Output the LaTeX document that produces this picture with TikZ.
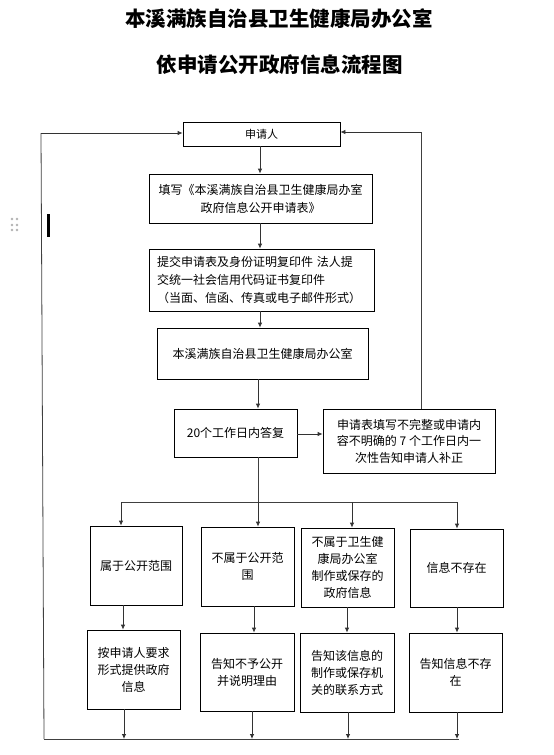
\documentclass[tikz,border=0pt]{standalone}
\usepackage{fontspec}
\setmainfont{Noto Sans CJK SC}
\newfontfamily\cjk{Noto Sans CJK SC}
\usetikzlibrary{arrows.meta,calc}
\begin{document}
\begin{tikzpicture}[x=1pt,y=-1pt,
  box/.style={draw=black,line width=0.8pt,inner sep=0pt,align=center,font=\cjk\fontsize{12}{18}\selectfont},
  sbox/.style={box,font=\cjk\fontsize{12}{17}\selectfont},
  arr/.style={draw=black!80,line width=0.8pt,-{Latex[length=5pt,width=4.5pt]}},
  ln/.style={draw=black!75,line width=0.8pt},
  ttl/.style={font=\cjk\bfseries\fontsize{20.5}{24}\selectfont,inner sep=0pt}]
\useasboundingbox (0,0) rectangle (554,755);
\fill[white] (0,0) rectangle (554,755);
% titles
\node[ttl] (t1) at (279,19) {本溪满族自治县卫生健康局办公室};
\node[ttl] (t2) at (279.5,65) {依申请公开政府信息流程图};
% artifacts
\foreach \yy in {219,225,230}{\fill[gray!60] (12,\yy) circle (1.3); \fill[gray!60] (17,\yy) circle (1.3);}
\fill[black] (47,214) rectangle (49.5,237);
% boxes
\node[box,minimum width=157,minimum height=24,font=\cjk\fontsize{11}{14}\selectfont] (shen) at (261.5,134) {申请人};
\node[box,minimum width=223,minimum height=49] (tian) at (260.5,198.5) {填写《本溪满族自治县卫生健康局办室\\政府信息公开申请表》};
\node[box,minimum width=225,minimum height=62,text width=209,align=left] (tijiao) at (261.5,280) {提交申请表及身份证明复印件 法人提\\交统一社会信用代码证书复印件\\（当面、信函、传真或电子邮件形式）};
\node[box,minimum width=211,minimum height=51] (office) at (262.5,353.5) {本溪满族自治县卫生健康局办公室};
\node[box,minimum width=123,minimum height=48] (reply) at (235.5,433) {20个工作日内答复};
\node[box,minimum width=172,minimum height=64,font=\cjk\fontsize{12}{16.5}\selectfont] (incompl) at (409,441) {申请表填写不完整或申请内\\容不明确的 7 个工作日内一\\次性告知申请人补正};
\node[sbox,minimum width=92,minimum height=79] (A) at (136,565.5) {属于公开范围};
\node[sbox,minimum width=93,minimum height=79] (B) at (247.5,566.5) {不属于公开范\\围};
\node[sbox,minimum width=93,minimum height=79] (C) at (347.5,567.5) {不属于卫生健\\康局办公室\\制作或保存的\\政府信息};
\node[sbox,minimum width=93,minimum height=78] (D) at (456.5,568) {信息不存在};
\node[sbox,minimum width=93,minimum height=79] (A2) at (133.5,669.5) {按申请人要求\\形式提供政府\\信息};
\node[sbox,minimum width=94,minimum height=78] (B2) at (247,672) {告知不予公开\\并说明理由};
\node[sbox,minimum width=94,minimum height=79] (C2) at (347,672.5) {告知该信息的\\制作或保存机\\关的联系方式};
\node[sbox,minimum width=93,minimum height=79] (D2) at (455.5,672.5) {告知信息不存\\在};
% coordinates
\coordinate (split) at (258,502);
\coordinate (ja) at (121,502);
\coordinate (jb) at (258,502);
\coordinate (jc) at (352,502);
\coordinate (jd) at (457,502);
\coordinate (a1) at (123,605);
\coordinate (b1) at (254,606);
\coordinate (c1) at (347,607);
\coordinate (d1) at (457,607);
\coordinate (a2) at (124,709);
\coordinate (b2) at (252,711);
\coordinate (c2) at (348,712);
\coordinate (d2) at (457,712);
\coordinate (bl) at (44,739);
\coordinate (br) at (459,739);
\coordinate (ltop) at (41,133);
\coordinate (rx) at (421,0);
\coordinate (rtop) at (421,132);
% main chain
\draw[arr] ([xshift=-1.5pt]shen.south) -- ([xshift=-1.5pt]shen.south |- tian.north);
\draw[arr] ([xshift=-0.5pt]tian.south) -- ([xshift=-0.5pt]tian.south |- tijiao.north);
\draw[arr] ([xshift=-1.5pt]tijiao.south) -- ([xshift=-1.5pt]tijiao.south |- office.north);
\draw[arr] (split |- office.south) -- (split |- reply.north);
\draw[arr] (reply.east |- 0,434) -- (incompl.west |- 0,434);
% right feedback
\draw[ln] (rx |- incompl.north) -- (rtop);
\draw[arr] (rtop) -- (rtop -| shen.east);
% split
\draw[ln] (split |- reply.south) -- (split);
\draw[ln] (ja) -- (jd);
\draw[arr] (ja) -- (ja |- A.north);
\draw[arr] (jb) -- (jb |- B.north);
\draw[arr] (jc) -- (jc |- C.north);
\draw[arr] (jd) -- (jd |- D.north);
% between rows
\draw[arr] (a1) -- (a1 |- A2.north);
\draw[arr] (b1) -- (b1 |- B2.north);
\draw[arr] (c1) -- (c1 |- C2.north);
\draw[arr] (d1) -- (d1 |- D2.north);
% to bottom line
\draw[arr] (a2) -- (a2 |- bl);
\draw[arr] (b2) -- (b2 |- bl);
\draw[arr] (c2) -- (c2 |- bl);
\draw[arr] (d2) -- (d2 |- bl);
\draw[ln] (bl) -- (br);
\draw[ln] (bl) -- (ltop);
\draw[arr] (ltop) -- (ltop -| shen.west);
\end{tikzpicture}
\end{document}
